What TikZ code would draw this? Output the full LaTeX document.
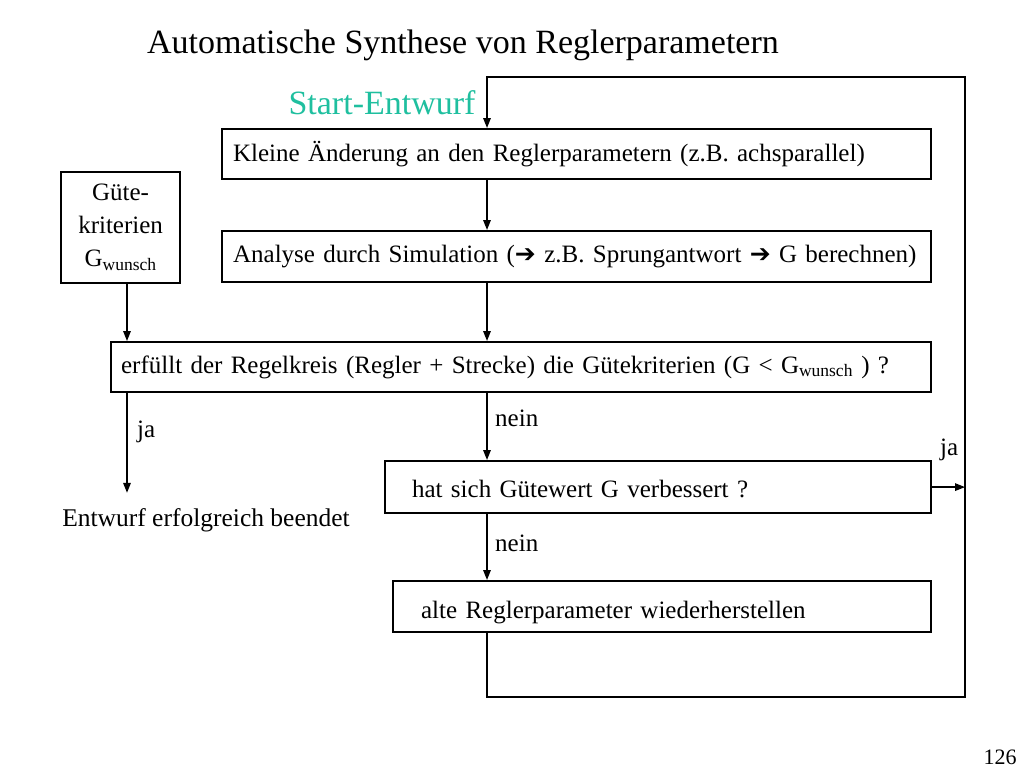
\documentclass[tikz,border=0pt]{standalone}
\usepackage{fontspec}
\setmainfont{Liberation Serif}
\newfontfamily\symfont{DejaVu Sans}
\usetikzlibrary{arrows.meta}
\definecolor{startgreen}{HTML}{1FBF9F}
\definecolor{lineink}{HTML}{000000}

\begin{document}
\begin{tikzpicture}[x=1pt, y=-1pt, line cap=butt,
    stepbox/.style={draw=lineink, line width=2.2pt, rectangle, anchor=north west,
      align=left, minimum height=50, inner ysep=0,
      font=\fontsize{25}{30}\selectfont},
    flow/.style={lineink, line width=1.5pt, -{Triangle[length=10pt, width=7.5pt]}},
    lbl/.style={font=\fontsize{25}{30}\selectfont, inner sep=0}]
  \useasboundingbox (0,0) rectangle (1024,768);
  % headings
  \node[font=\fontsize{34}{40}\selectfont] (titel) at (463,45) {Automatische Synthese von Reglerparametern};
  \node[startgreen, font=\fontsize{34}{40}\selectfont] (start) at (382,103) {Start-Entwurf};
  % boxes
  \node[stepbox, inner xsep=11, text width=687, minimum height=50] (klein) at (221,128)
    {Kleine Änderung an den Reglerparametern (z.B. achsparallel)};
  \node[stepbox, inner xsep=11, text width=687, minimum height=51] (analyse) at (221,230)
    {Analyse durch Simulation ({\symfont ➔} z.B. Sprungantwort {\symfont ➔} G berechnen)};
  \node[stepbox, inner xsep=10, text width=800] (pruef) at (110,341)
    {erfüllt der Regelkreis (Regler + Strecke) die Gütekriterien (G < G\textsubscript{wunsch} ) ?};
  \node[stepbox, inner xsep=27, text width=492, minimum height=52,
    text height=26, text depth=6] (besser) at (384,460)
    {hat sich Gütewert G verbessert ?};
  \node[stepbox, inner xsep=28, text width=482, minimum height=51,
    text height=30, text depth=6] (alt) at (392,580)
    {alte Reglerparameter wiederherstellen};
  \node[stepbox, align=center, inner xsep=0, text width=119, minimum height=111,
    font=\fontsize{25}{33}\selectfont] (guete) at (60,171)
    {Güte-\\kriterien\\G\textsubscript{wunsch}};
  \node[lbl, anchor=base, font=\fontsize{25.5}{30}\selectfont] (ziel) at (206,526) {Entwurf erfolgreich beendet};
  % helper points
  \coordinate (axis) at (487,0);
  \coordinate (seitlich) at (127,0);
  \coordinate (eckeob) at (965,77);
  \coordinate (eckeun) at (965,697);
  % connectors
  \draw[flow] (klein.south -| axis) -- (analyse.north -| axis);
  \draw[flow] (analyse.south -| axis) -- (pruef.north -| axis);
  \draw[flow] (guete.south -| seitlich) -- (pruef.north -| seitlich);
  \draw[flow, shorten >=15] (pruef.south -| seitlich) -- (ziel.north -| seitlich);
  \draw[flow] (pruef.south -| axis) -- (besser.north -| axis);
  \draw[flow] (besser.south -| axis) -- (alt.north -| axis);
  \draw[flow] (besser.east) -- (besser.east -| eckeob);
  \draw[flow] (alt.south -| axis) |- (eckeun) -- (eckeob) -| (klein.north -| axis);
  % labels
  \node[lbl, anchor=west] (ja1) at (137,432) {ja};
  \node[lbl, anchor=west] (nein1) at (495,418) {nein};
  \node[lbl, anchor=west] (ja2) at (940,450) {ja};
  \node[lbl, anchor=west] (nein2) at (495,543) {nein};
  \node[font=\fontsize{22}{26}\selectfont] (seite) at (1000,757) {126};
\end{tikzpicture}
\end{document}
